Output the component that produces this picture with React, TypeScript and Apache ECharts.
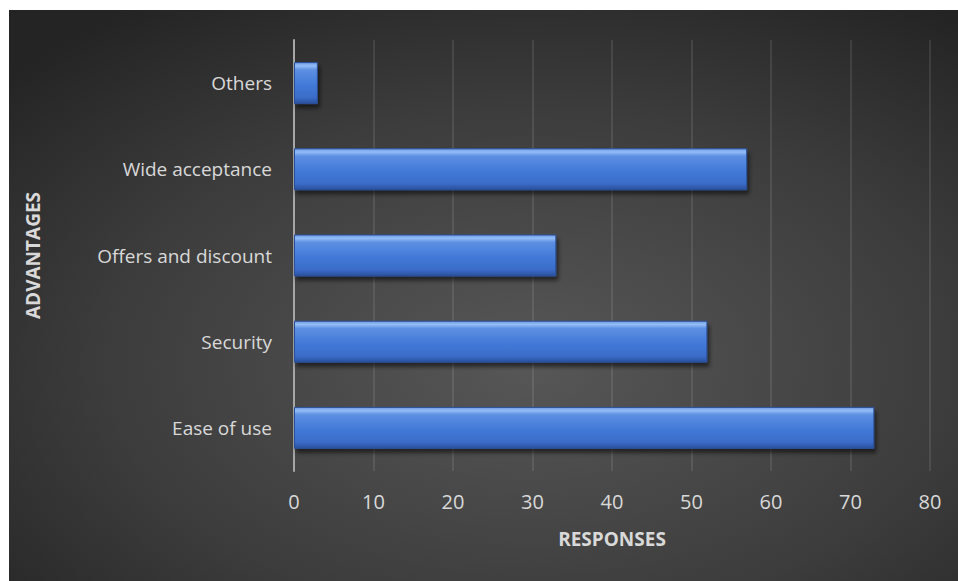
import React, { useEffect, useRef } from "react";
import * as echarts from "echarts";

const categories = ["Ease of use", "Security", "Offers and discount", "Wide acceptance", "Others"];
const responses = [73, 52, 33, 57, 3];
const xTicks = [0, 10, 20, 30, 40, 50, 60, 70, 80];
const xAxisTitle = "RESPONSES";
const yAxisTitle = "ADVANTAGES";

export default function App() {
  const ref = useRef<HTMLDivElement>(null);
  useEffect(() => {
    if (!ref.current) return;
    document.body.style.margin = "0";
    document.body.style.overflow = "hidden";
    const chart = echarts.init(ref.current, undefined, { renderer: "svg" });
    const font = "'Open Sans', sans-serif";
    chart.setOption({
      animation: false,
      backgroundColor: {
        type: "radial",
        x: 0.55,
        y: 0.62,
        r: 0.75,
        colorStops: [
          { offset: 0, color: "#575757" },
          { offset: 0.6, color: "#3c3c3c" },
          { offset: 1, color: "#242424" },
        ],
      },
      grid: { left: 285, top: 30, right: 28, bottom: 110, containLabel: false },
      xAxis: {
        type: "value",
        min: xTicks[0],
        max: xTicks[xTicks.length - 1],
        interval: 10,
        name: xAxisTitle,
        nameLocation: "middle",
        nameGap: 58,
        nameTextStyle: { color: "#d9d9d9", fontSize: 19, fontWeight: "bold", fontFamily: font },
        axisLine: { show: false },
        axisTick: { show: false },
        axisLabel: { color: "#d9d9d9", fontSize: 20, fontFamily: font, margin: 20 },
        splitLine: { show: true, lineStyle: { color: "rgba(255,255,255,0.13)", width: 1.5 } },
      },
      yAxis: {
        type: "category",
        data: categories,
        name: yAxisTitle,
        nameLocation: "middle",
        nameRotate: 90,
        nameGap: 252,
        nameTextStyle: { color: "#d9d9d9", fontSize: 19, fontWeight: "bold", fontFamily: font },
        axisLine: { show: true, lineStyle: { color: "#a6a6a6", width: 2 } },
        axisTick: { show: false },
        axisLabel: { color: "#d9d9d9", fontSize: 19, fontFamily: font, margin: 22 },
        splitLine: { show: false },
      },
      series: [
        {
          type: "bar",
          data: responses,
          barWidth: 42,
          itemStyle: {
            color: {
              type: "linear",
              x: 0,
              y: 0,
              x2: 0,
              y2: 1,
              colorStops: [
                { offset: 0, color: "#6f9be6" },
                { offset: 0.08, color: "#93bdf6" },
                { offset: 0.18, color: "#5d8fe2" },
                { offset: 0.55, color: "#4279d8" },
                { offset: 0.85, color: "#3b6cc8" },
                { offset: 1, color: "#2a4f9c" },
              ],
            },
            borderColor: "#2b5099",
            borderWidth: 1,
            shadowColor: "rgba(0,0,0,0.55)",
            shadowBlur: 4,
            shadowOffsetY: 4,
            shadowOffsetX: 2,
          },
        },
      ],
    });
    return () => chart.dispose();
  }, []);
  return (
    <div
      ref={ref}
      style={{ position: "absolute", left: 9, top: 10, width: 949, height: 571 }}
    />
  );
}
